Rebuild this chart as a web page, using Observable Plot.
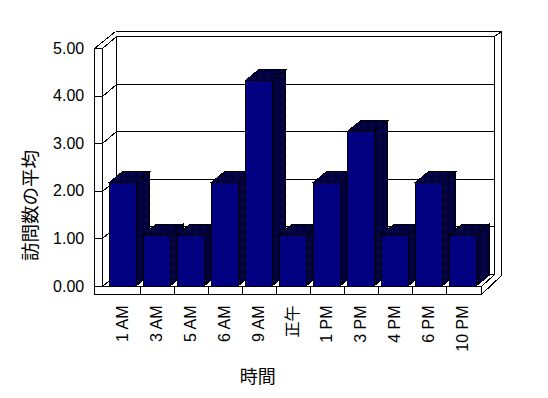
<!DOCTYPE html>
<html><head><meta charset="utf-8">
<script src="https://cdn.jsdelivr.net/npm/d3@7"></script>
<script src="https://cdn.jsdelivr.net/npm/@observablehq/plot@0.6"></script>
<style>
body{margin:0;background:#fff}
#chart svg{display:block}
#chart svg line, #chart svg rect, #chart svg polygon, #chart svg path{shape-rendering:crispEdges}
</style>
</head><body><div id="chart"></div>
<script>
const categories = ["1 AM","3 AM","5 AM","6 AM","9 AM","正午","1 PM","3 PM","4 PM","6 PM","10 PM"];
const values = [2.17, 1.07, 1.07, 2.17, 4.31, 1.07, 2.17, 3.24, 1.07, 2.17, 1.07];
const yTicks = [0, 1, 2, 3, 4, 5];
const xTitle = "時間";
const yTitle = "訪問数の平均";

const data = categories.map((c, i) => ({cat: c, value: values[i]}));

const FONT = '"Liberation Sans", Arial, "Noto Sans CJK JP", sans-serif';
const CJK = '"Noto Sans CJK JP", "Liberation Sans", sans-serif';
const NAVY = "#000080";
const WALL_DX = 14, WALL_DY = -12, BAR_DX = 13.5, BAR_DY = -11;

function scene(index, scales) {
  const x = scales.x, y = scales.y;
  const [xr0, xr1] = x.range();
  const y0 = y(0), yTop = y(d3.max(yTicks));
  const r = v => Math.round(v) + 0.5;
  const lx0 = xr0 - 9.5, lx1 = xr0 - 1.5;
  const bl = lx1 + WALL_DX, br = xr1 + WALL_DX - 1;
  const g = d3.create("svg:g").attr("fill", "none").attr("stroke", "black").attr("stroke-width", 1);
  const line = (a, b, c, d) => g.append("line").attr("x1", r(a)).attr("y1", r(b)).attr("x2", r(c)).attr("y2", r(d));
  // back wall
  g.append("rect").attr("x", r(bl)).attr("y", r(yTop + WALL_DY))
    .attr("width", Math.round(br - bl)).attr("height", Math.round(y0 - yTop)).attr("fill", "white");
  for (const t of yTicks) line(bl, y(t) + WALL_DY, br, y(t) + WALL_DY);
  // outer frame (wall thickness)
  const oy = yTop + WALL_DY - 5, ox = br + 7;
  line(lx0, yTop, lx0 + 21, oy);
  line(lx0 + 21, oy, ox, oy);
  line(br, yTop + WALL_DY, ox, oy);
  line(ox, oy, ox, y0 + WALL_DY + 1);
  // left wall inner diagonals
  for (const t of yTicks) line(lx1, y(t), bl, y(t) + WALL_DY);
  // left wall front strip
  g.append("rect").attr("x", r(lx0)).attr("y", r(yTop))
    .attr("width", Math.round(lx1 - lx0)).attr("height", Math.round(y0 - yTop)).attr("fill", "white");
  for (const t of yTicks) line(lx0, y(t), lx1, y(t));
  // floor front face
  g.append("rect").attr("x", r(lx0)).attr("y", r(y0))
    .attr("width", Math.round(xr1 - lx0)).attr("height", 8).attr("fill", "white");
  const step = x.step(), pad = (step - x.bandwidth()) / 2;
  categories.slice(1).forEach(c => line(x(c) - pad, y0, x(c) - pad, y0 + 8));
  // floor right edges
  line(xr1, y0, br, y0 + WALL_DY);
  line(xr1, y0 + 8, ox, y0 + WALL_DY + 1);
  return g.node();
}

function depthFaces(index, scales) {
  const x = scales.x, y = scales.y;
  const bw = x.bandwidth(), y0 = y(0);
  const g = d3.create("svg:g").attr("stroke", "black").attr("stroke-width", 1);
  const pat = g.append("defs").append("pattern").attr("id", "dith")
    .attr("width", 2).attr("height", 2).attr("patternUnits", "userSpaceOnUse");
  pat.append("rect").attr("width", 2).attr("height", 2).attr("fill", NAVY).attr("stroke", "none");
  pat.append("rect").attr("width", 1).attr("height", 1).attr("fill", "black").attr("stroke", "none");
  pat.append("rect").attr("x", 1).attr("y", 1).attr("width", 1).attr("height", 1).attr("fill", "black").attr("stroke", "none");
  for (const d of data) {
    const x1 = x(d.cat), x2 = x1 + bw, yt = y(d.value);
    const side = [[x2, yt], [x2 + BAR_DX, yt + BAR_DY], [x2 + BAR_DX, y0 + BAR_DY], [x2, y0]];
    const top = [[x1, yt], [x1 + BAR_DX, yt + BAR_DY], [x2 + BAR_DX, yt + BAR_DY], [x2, yt]];
    g.append("polygon").attr("points", side.map(p => p.join(",")).join(" ")).attr("fill", "url(#dith)");
    g.append("polygon").attr("points", top.map(p => p.join(",")).join(" ")).attr("fill", "url(#dith)");
  }
  return g.node();
}

const chart = Plot.plot({
  width: 548,
  height: 398,
  marginLeft: 103.7,
  marginRight: 67.3,
  marginTop: 48,
  marginBottom: 112,
  style: {fontFamily: FONT, fontSize: "16px", background: "white", color: "black", overflow: "visible"},
  x: {domain: categories, paddingInner: 0.22, paddingOuter: 0.11, align: 0.5},
  y: {domain: [0, 5]},
  marks: [
    scene,
    depthFaces,
    Plot.barY(data, {x: "cat", y: "value", fill: NAVY, stroke: "black", strokeWidth: 1}),
    Plot.axisY(yTicks, {tickFormat: d3.format(".2f"), tickSize: 0, tickPadding: 20, label: null, fontSize: 16}),
    Plot.axisX({tickRotate: -90, tickSize: 0, tickPadding: 19, label: null, fontSize: 16}),
    Plot.text([xTitle], {text: d => d, frameAnchor: "bottom", textAnchor: "middle", lineAnchor: "middle", dx: -35, dy: 91, fontSize: 18, fontFamily: CJK}),
    Plot.text([yTitle], {text: d => d, frameAnchor: "left", textAnchor: "middle", lineAnchor: "middle", rotate: -90, dx: -73, dy: 38, fontSize: 18.5, fontFamily: CJK})
  ]
});
document.getElementById("chart").appendChild(chart);
</script>
</body></html>
